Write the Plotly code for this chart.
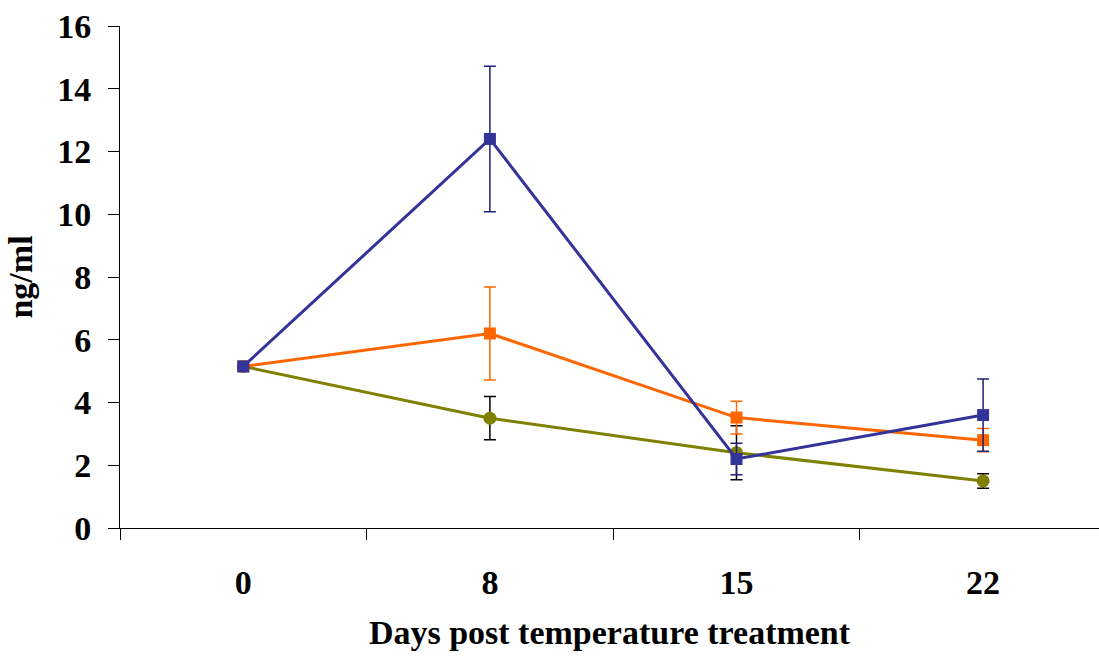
import plotly.graph_objects as go

days = ["0", "8", "15", "22"]

blue_vals = [5.15, 12.4, 2.2, 3.6]
blue_err = [0.0, 2.32, 0.5, 1.15]

orange_vals = [5.15, 6.2, 3.52, 2.8]
orange_err = [0.0, 1.48, 0.52, 0.37]

olive_vals = [5.15, 3.5, 2.4, 1.5]
olive_err = [0.0, 0.69, 0.86, 0.23]

y_ticks = [0, 2, 4, 6, 8, 10, 12, 14, 16]

font_family = "Liberation Serif"
fs = 34

fig = go.Figure()

fig.add_trace(go.Scatter(
    x=days, y=olive_vals, mode="lines+markers",
    line=dict(color="#808000", width=3),
    marker=dict(symbol="circle", size=13, color="#808000"),
    error_y=dict(type="data", array=olive_err, visible=True,
                 color="#000000", thickness=1.5, width=6),
    showlegend=False,
))
fig.add_trace(go.Scatter(
    x=days, y=orange_vals, mode="lines+markers",
    line=dict(color="#FF6600", width=3),
    marker=dict(symbol="square", size=12, color="#FF6600"),
    error_y=dict(type="data", array=orange_err, visible=True,
                 color="#FF6600", thickness=1.5, width=6),
    showlegend=False,
))
fig.add_trace(go.Scatter(
    x=days, y=blue_vals, mode="lines+markers",
    line=dict(color="#333399", width=3),
    marker=dict(symbol="square", size=12, color="#333399"),
    error_y=dict(type="data", array=blue_err, visible=True,
                 color="#1F1F7A", thickness=1.5, width=6),
    showlegend=False,
))

fig.update_layout(
    width=1099, height=656,
    margin=dict(l=120, r=0, t=26, b=128),
    paper_bgcolor="white", plot_bgcolor="white",
    font=dict(family=font_family, color="black"),
    xaxis=dict(
        type="category",
        range=[-0.5, 3.47],
        showline=True, linecolor="black", linewidth=1,
        ticks="outside", ticklen=11, tickcolor="black", tickwidth=1,
        tickson="boundaries",
        ticklabelstandoff=24,
        tickfont=dict(family=font_family, size=fs, color="black", weight="bold"),
        showgrid=False, zeroline=False,
        title=dict(text="<b>Days post temperature treatment</b>",
                   font=dict(family=font_family, size=fs, color="black"),
                   standoff=20),
    ),
    yaxis=dict(
        range=[0, 16],
        tickvals=y_ticks,
        showline=True, linecolor="black", linewidth=1,
        ticks="outside", ticklen=11, tickcolor="black", tickwidth=1,
        ticklabelstandoff=10,
        tickfont=dict(family=font_family, size=fs, color="black", weight="bold"),
        showgrid=False, zeroline=False,
        title=dict(text="<b>ng/ml</b>",
                   font=dict(family=font_family, size=fs, color="black"),
                   standoff=14),
    ),
)

fig.write_html("out.html")
